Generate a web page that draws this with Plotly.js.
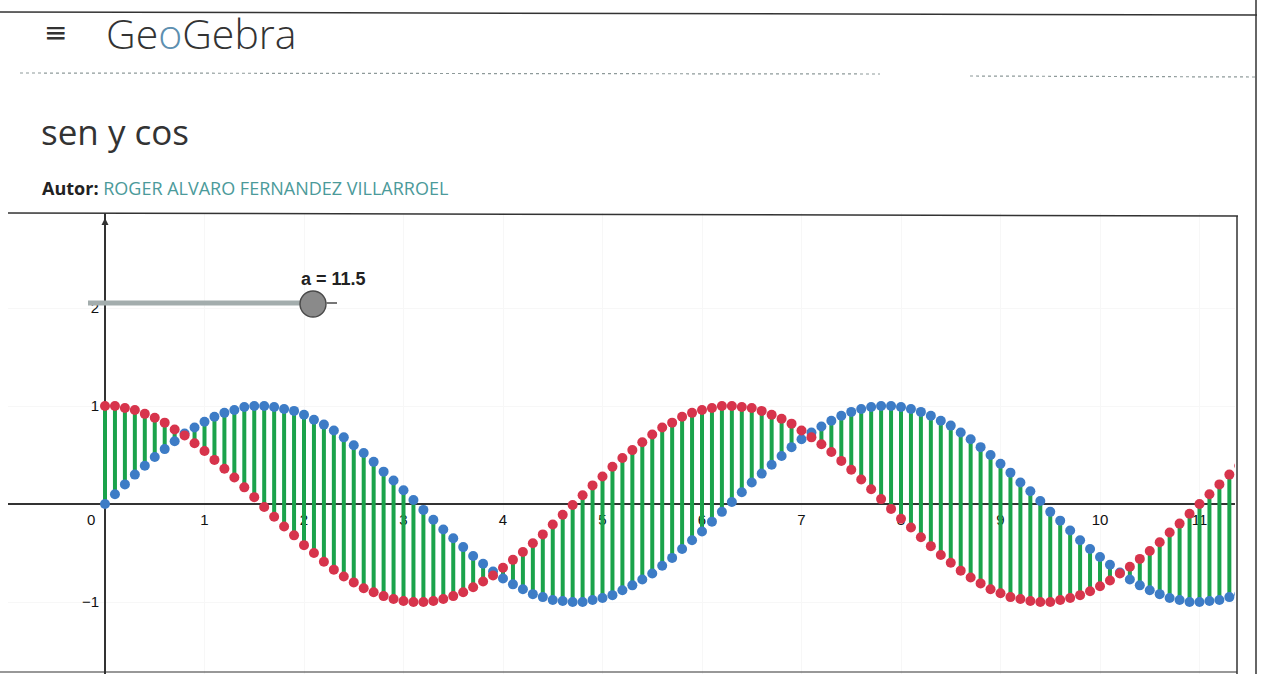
<!DOCTYPE html>
<html>
<head>
<meta charset="utf-8">
<script src="https://cdn.plot.ly/plotly-3.0.1.min.js"></script>
<style>html,body{margin:0;padding:0;background:#fff;}#chart{width:1285px;height:674px;}</style>
</head>
<body>
<div id="chart"></div>
<script>
const xVals = [0.0,0.1,0.2,0.3,0.4,0.5,0.6,0.7,0.8,0.9,1.0,1.1,1.2,1.3,1.4,1.5,1.6,1.7,1.8,1.9,
  2.0,2.1,2.2,2.3,2.4,2.5,2.6,2.7,2.8,2.9,3.0,3.1,3.2,3.3,3.4,3.5,3.6,3.7,3.8,3.9,
  4.0,4.1,4.2,4.3,4.4,4.5,4.6,4.7,4.8,4.9,5.0,5.1,5.2,5.3,5.4,5.5,5.6,5.7,5.8,5.9,
  6.0,6.1,6.2,6.3,6.4,6.5,6.6,6.7,6.8,6.9,7.0,7.1,7.2,7.3,7.4,7.5,7.6,7.7,7.8,7.9,
  8.0,8.1,8.2,8.3,8.4,8.5,8.6,8.7,8.8,8.9,9.0,9.1,9.2,9.3,9.4,9.5,9.6,9.7,9.8,9.9,
  10.0,10.1,10.2,10.3,10.4,10.5,10.6,10.7,10.8,10.9,11.0,11.1,11.2,11.3,11.4,11.5];
// blue points (sen)
const senVals = [0.00,0.10,0.20,0.30,0.39,0.48,0.56,0.64,0.72,0.78,0.84,0.89,0.93,0.96,0.99,1.00,1.00,0.99,0.97,0.95,
  0.91,0.86,0.81,0.75,0.68,0.60,0.52,0.43,0.33,0.24,0.14,0.04,-0.06,-0.16,-0.26,-0.35,-0.44,-0.53,-0.61,-0.69,
  -0.76,-0.82,-0.87,-0.92,-0.95,-0.98,-0.99,-1.00,-1.00,-0.98,-0.96,-0.93,-0.88,-0.83,-0.77,-0.71,-0.63,-0.55,-0.46,-0.37,
  -0.28,-0.18,-0.08,0.02,0.12,0.22,0.31,0.40,0.49,0.58,0.66,0.73,0.79,0.85,0.90,0.94,0.97,0.99,1.00,1.00,
  0.99,0.97,0.94,0.90,0.85,0.80,0.73,0.66,0.58,0.50,0.41,0.32,0.22,0.13,0.03,-0.08,-0.17,-0.27,-0.37,-0.46,
  -0.54,-0.62,-0.70,-0.77,-0.83,-0.88,-0.92,-0.96,-0.98,-1.00,-1.00,-0.99,-0.98,-0.95,-0.92,-0.88];
// red points (cos)
const cosVals = [1.00,1.00,0.98,0.96,0.92,0.88,0.83,0.76,0.70,0.62,0.54,0.45,0.36,0.27,0.17,0.07,-0.03,-0.13,-0.23,-0.32,
  -0.42,-0.50,-0.59,-0.67,-0.74,-0.80,-0.86,-0.90,-0.94,-0.97,-0.99,-1.00,-1.00,-0.99,-0.97,-0.94,-0.90,-0.85,-0.79,-0.73,
  -0.65,-0.57,-0.49,-0.40,-0.31,-0.21,-0.11,-0.01,0.09,0.19,0.28,0.38,0.47,0.55,0.63,0.71,0.78,0.83,0.89,0.93,
  0.96,0.98,1.00,1.00,0.99,0.98,0.95,0.91,0.87,0.82,0.75,0.68,0.61,0.53,0.44,0.35,0.25,0.15,0.05,-0.05,
  -0.15,-0.24,-0.34,-0.43,-0.52,-0.60,-0.68,-0.75,-0.81,-0.87,-0.91,-0.95,-0.97,-0.99,-1.00,-1.00,-0.98,-0.96,-0.93,-0.89,
  -0.84,-0.78,-0.71,-0.64,-0.56,-0.48,-0.39,-0.29,-0.20,-0.10,0.00,0.10,0.20,0.30,0.39,0.48];
const xTickVals = [1,2,3,4,5,6,7,8,9,10,11];
const xTickText = ['1','2','3','4','5','6','7','8','9','10','11'];
const yTickVals = [-1,1,2];
const yTickText = ['\u22121','1','2'];
const sliderLabel = 'a = 11.5';

const W = 1285, H = 674;
const px = v => v / W;
const py = v => 1 - v / H;

// green segments between the two point sets
const gx = [], gy = [];
for (let i = 0; i < xVals.length; i++) {
  gx.push(xVals[i], xVals[i], null);
  gy.push(cosVals[i], senVals[i], null);
}

const traces = [
  {x: gx, y: gy, type: 'scatter', mode: 'lines', line: {color: '#1ba34b', width: 4}, hoverinfo: 'skip', showlegend: false},
  {x: xVals, y: senVals, type: 'scatter', mode: 'markers', marker: {color: '#3d7cc6', size: 10}, showlegend: false},
  {x: xVals, y: cosVals, type: 'scatter', mode: 'markers', marker: {color: '#d7344c', size: 10}, showlegend: false}
];

const line = (x0, y0, x1, y1, color, width, dash) => ({
  type: 'line', xref: 'paper', yref: 'paper', x0: px(x0), y0: py(y0), x1: px(x1), y1: py(y1),
  line: {color: color, width: width, dash: dash || 'solid'}, layer: 'above'
});

const tickFont = {family: 'Liberation Sans, Arial, sans-serif', size: 15, color: '#111'};

const layout = {
  width: W, height: H,
  margin: {l: 0, r: 0, t: 0, b: 0},
  paper_bgcolor: '#ffffff', plot_bgcolor: '#ffffff',
  showlegend: false,
  xaxis: {
    domain: [px(8), px(1235)], range: [(8 - 105) / 99.5, (1235 - 105) / 99.5],
    anchor: 'free', position: py(504),
    tickvals: xTickVals, ticktext: xTickText,
    showgrid: true, gridcolor: '#f7f7f7', gridwidth: 1,
    zeroline: true, zerolinecolor: '#333', zerolinewidth: 1.5,
    showline: false, ticks: '', ticklabelstandoff: 5,
    tickfont: tickFont,
    layer: 'below traces', fixedrange: true
  },
  yaxis: {
    domain: [0, py(213)], range: [(504 - 674) / 98, (504 - 213) / 98],
    anchor: 'free', position: px(105),
    tickvals: yTickVals, ticktext: yTickText,
    showgrid: true, gridcolor: '#f7f7f7', gridwidth: 1,
    zeroline: true, zerolinecolor: '#333', zerolinewidth: 1.5,
    showline: false, ticks: '', ticklabelstandoff: 6,
    tickfont: tickFont,
    layer: 'below traces', fixedrange: true
  },
  shapes: [
    line(0, 12, 1257, 15, '#333', 1.5),
    line(1256, 0, 1256, 674, '#333', 1.5),
    line(20, 73, 880, 74, '#8e9a9a', 1.2, 'dot'),
    line(970, 76, 1255, 77, '#8e9a9a', 1.2, 'dot'),
    line(8, 213, 1238, 216, '#333', 1.5),
    line(1237, 216, 1237, 674, '#333', 1.5),
    line(0, 672, 1237, 672, '#333', 1.2),
    // slider track
    line(88, 303, 308, 303, '#a3adad', 5),
    {type: 'circle', xref: 'paper', yref: 'paper', x0: px(300), x1: px(326), y0: py(291), y1: py(317),
     fillcolor: '#8a8a8a', line: {color: '#4a4a4a', width: 1.4}, layer: 'above'},
    line(326, 303, 337, 303, '#777', 2)
  ],
  annotations: [
    {xref: 'paper', yref: 'paper', x: px(55), y: py(33), text: '\u2261', showarrow: false,
     font: {family: 'DejaVu Sans, sans-serif', size: 28, color: '#333'}, xanchor: 'center', yanchor: 'middle'},
    {xref: 'paper', yref: 'paper', x: px(104), y: py(33), text: 'Ge<span style="color:#5d8fb0">o</span>Gebra', showarrow: false,
     font: {family: 'Open Sans, sans-serif', size: 41, color: '#333', weight: 300}, xanchor: 'left', yanchor: 'middle'},
    {xref: 'paper', yref: 'paper', x: px(39), y: py(131), text: 'sen y cos', showarrow: false,
     font: {family: 'Open Sans, sans-serif', size: 35, color: '#333'}, xanchor: 'left', yanchor: 'middle'},
    {xref: 'paper', yref: 'paper', x: px(40), y: py(188), text: '<b>Autor:</b> <span style="color:#4b9a9a">ROGER ALVARO FERNANDEZ VILLARROEL</span>', showarrow: false,
     font: {family: 'Open Sans, sans-serif', size: 18, color: '#222'}, xanchor: 'left', yanchor: 'middle'},
    {xref: 'paper', yref: 'paper', x: px(299), y: py(279), text: '<b>' + sliderLabel + '</b>', showarrow: false,
     font: {family: 'Liberation Sans, Arial, sans-serif', size: 18, color: '#222'}, xanchor: 'left', yanchor: 'middle'},
    {xref: 'x', yref: 'y', x: 0, y: 0, text: '0', showarrow: false, xshift: -14, yshift: -15,
     font: tickFont},
    {xref: 'paper', yref: 'paper', x: px(105), y: py(218), ax: 0, ay: 30, axref: 'pixel', ayref: 'pixel',
     text: '', showarrow: true, arrowhead: 2, arrowsize: 1, arrowwidth: 1.4, arrowcolor: '#333'}
  ]
};

Plotly.newPlot('chart', traces, layout, {displayModeBar: false, staticPlot: true});
</script>
</body>
</html>
